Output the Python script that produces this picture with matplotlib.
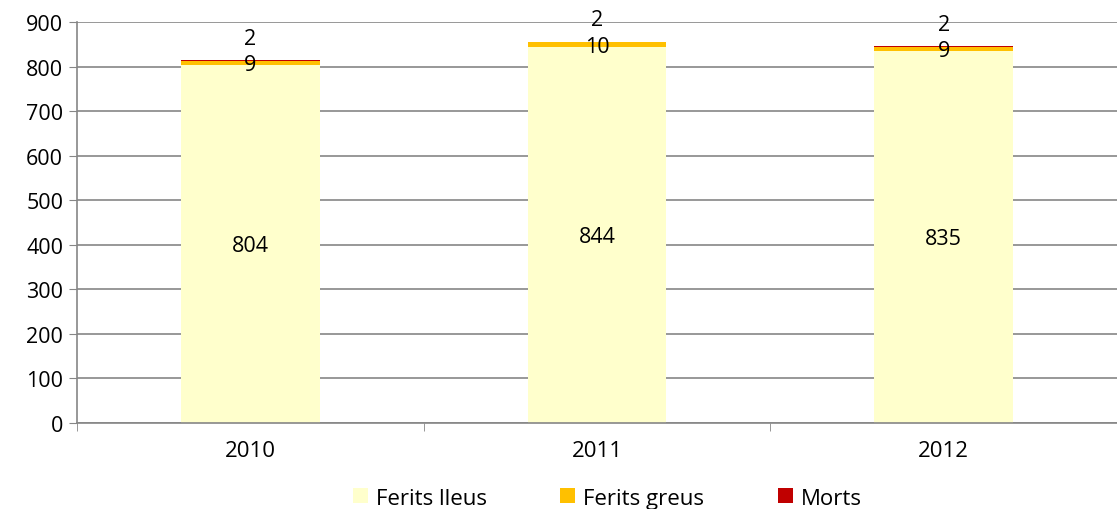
import matplotlib.pyplot as plt
import numpy as np

years = ["2010", "2011", "2012"]
lleus = [804, 844, 835]
greus = [9, 10, 9]
morts = [2, 2, 2]

plt.rcParams['font.family'] = ['Open Sans', 'DejaVu Sans']

fig = plt.figure(figsize=(11.17, 5.10), dpi=100)
ax = fig.add_axes([0.069, 0.1686, 0.931, 0.7863])

x = np.arange(len(years))
w = 0.4
c_lleus = "#FFFFCC"
c_greus = "#FFC000"
c_morts = "#C00000"

ax.bar(x, lleus, w, color=c_lleus, label="Ferits lleus", zorder=2)
ax.bar(x, greus, w, bottom=lleus, color=c_greus, label="Ferits greus", zorder=2)
bot2 = np.array(lleus) + np.array(greus)
ax.bar(x, morts, w, bottom=bot2, color=c_morts, label="Morts", zorder=2)

for i in range(len(years)):
    ax.text(x[i], lleus[i] / 2 - 4, str(lleus[i]), ha="center", va="center", fontsize=15.5, zorder=3)
    ax.text(x[i], lleus[i] + greus[i] / 2 - 4, str(greus[i]), ha="center", va="center", fontsize=15.5, zorder=3)
    ax.text(x[i], bot2[i] + morts[i] / 2 + 50, str(morts[i]), ha="center", va="center", fontsize=15.5, zorder=3)

ax.set_xlim(-0.5, 2.5)
ax.set_ylim(0, 900)
ax.set_yticks(range(0, 901, 100))
ax.set_xticks(x)
ax.set_xticklabels(years)
ax.set_xticks([-0.5, 0.5, 1.5, 2.5], minor=True)
ax.tick_params(axis="x", which="major", length=0, pad=12, labelsize=16)
ax.tick_params(axis="x", which="minor", length=6, color="#868686")
ax.tick_params(axis="y", length=6, color="#868686", labelsize=15.5, pad=4)
ax.yaxis.grid(True, color="#868686", linewidth=1.2, zorder=0)
ax.set_axisbelow(True)
for s in ["top", "right"]:
    ax.spines[s].set_visible(False)
for s in ["left", "bottom"]:
    ax.spines[s].set_color("#868686")
    ax.spines[s].set_linewidth(1.2)

ax.legend(loc="center", bbox_to_anchor=(0.51, -0.187), ncol=3, frameon=False,
          fontsize=16, handlelength=0.68, handleheight=0.68, columnspacing=3.3,
          handletextpad=0.36, borderpad=0)

fig.savefig("out.png", dpi=100)
